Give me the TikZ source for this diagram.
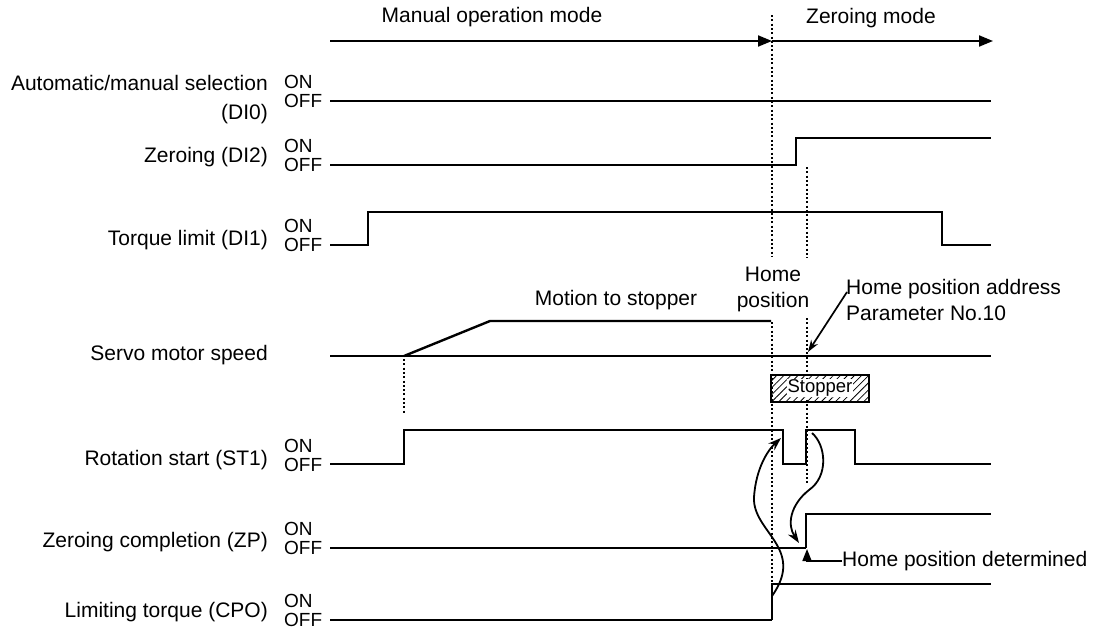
\documentclass[tikz,border=0pt]{standalone}
\usepackage{fontspec}
\setmainfont{Liberation Sans}
\usetikzlibrary{arrows.meta,patterns.meta}
\begin{document}
\begin{tikzpicture}[x=1pt,y=-1pt,
  lbl/.style={anchor=east,inner sep=0pt,font=\fontsize{21}{26}\selectfont},
  onoff/.style={anchor=west,inner sep=0pt,font=\fontsize{19}{22}\selectfont},
  txt/.style={inner sep=0pt,font=\fontsize{21}{26}\selectfont},
  sig/.style={line width=2.4pt},
  thinsig/.style={line width=1.6pt},
  dots/.style={line width=2.3pt,dash pattern=on 2pt off 2.3pt},
  cur/.style={line width=1.8pt,-{Stealth[length=13pt,width=9pt]}},
  modearrow/.style={line width=2pt,-{Triangle[length=14pt,width=11pt]}}]
\useasboundingbox (0,0) rectangle (1096,629);

% mode arrows
\coordinate (a0) at (330,41);
\coordinate (a1) at (772,41);
\coordinate (a2) at (993,41);
\draw[modearrow] (a0) -- (a1);
\draw[modearrow] (a1) -- (a2);
\node[txt] (mom) at (492,17) {Manual operation mode};
\node[txt] (zm) at (871,18) {Zeroing mode};

% signal labels
\node[lbl] (l0) at (268,83) {Automatic/manual selection};
\node[lbl] (l0b) at (268,114) {(DI0)};
\node[lbl] (l2) at (268,157) {Zeroing (DI2)};
\node[lbl] (l1) at (268,240) {Torque limit (DI1)};
\node[lbl] (ls) at (268,355) {Servo motor speed};
\node[lbl] (lst) at (268,460) {Rotation start (ST1)};
\node[lbl] (lzp) at (268,542) {Zeroing completion (ZP)};
\node[lbl] (lcpo) at (268,612) {Limiting torque (CPO)};

% ON / OFF
\foreach \y/\n in {101/a,165/b,245/c,465/d,548/e,620/f}{
  \node[onoff] (on\n) at (284,\y-19) {ON};
  \node[onoff] (off\n) at (284,\y) {OFF};
}

% DI0
\draw[sig] (330,101) -- (991,101);
% DI2
\draw[sig] (330,165) -- (796,165) -- (796,138) -- (991,138);
% DI1
\draw[sig] (330,245) -- (368,245) -- (368,212) -- (942,212) -- (942,245) -- (991,245);
% Servo motor speed
\draw[thinsig] (330,356) -- (991,356);
\draw[sig] (404,356) -- (490,321) -- (771,321);
% ST1
\draw[sig] (330,464) -- (404,464) -- (404,430) -- (783,430) -- (783,464) -- (806,464)
  -- (806,430) -- (855,430) -- (855,464) -- (991,464);
% ZP
\draw[thinsig] (330,548) -- (806,548);
\draw[sig] (806,548) -- (806,514) -- (991,514);
% CPO
\draw[thinsig] (330,620) -- (772,620);
\draw[sig] (772,620) -- (772,584) -- (991,584);

% dotted guides
\draw[dots] (772,15) -- (772,257);
\draw[dots] (772,322) -- (772,584);
\draw[dots] (807,167) -- (807,258);
\draw[dots] (807,318) -- (807,483);
\draw[dots] (404,359) -- (404,413);

% texts
\node[txt] (mts) at (616,300) {Motion to stopper};
\node[txt,align=center] (hp) at (773,289) {Home\\position};
\node[txt,anchor=west,align=left] (hpa) at (846,300) {Home position address\\Parameter No.10};
\coordinate (hpt) at (808,352);
\draw[line width=1.7pt,-{Stealth[length=12pt,width=8pt]}] (847,292) -- (hpt);

% stopper
\draw[line width=1.6pt,pattern={Lines[angle=45,distance=5pt,line width=0.8pt]}]
  (771,375) rectangle (869,402);
\node[fill=white,inner sep=1pt,font=\fontsize{18.5}{22}\selectfont] (stp) at (820,388) {Stopper};

% home position determined
\node[txt,anchor=west] (hpd) at (842,561) {Home position determined};
\coordinate (zpr) at (807,549);
\draw[line width=1.7pt,-{Triangle[length=12pt,width=9pt]}] (hpd.west) -| (zpr);

% curved arrows
\draw[cur] (772,596) .. controls (806,548) and (752,532) .. (754,497)
  .. controls (756,468) and (768,450) .. (781,438);
\draw[cur] (812,433) .. controls (826,445) and (829,476) .. (809,490)
  .. controls (790,505) and (787,525) .. (799,543);
\end{tikzpicture}
\end{document}
